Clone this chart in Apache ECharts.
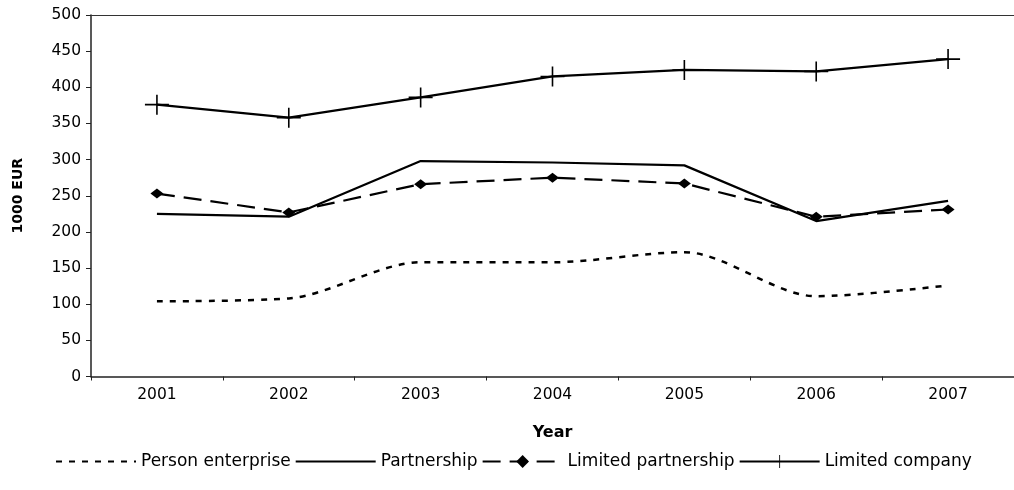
<!DOCTYPE html>
<html><head><meta charset="utf-8">
<script src="https://cdn.jsdelivr.net/npm/echarts@6/dist/echarts.min.js"></script>
<style>html,body{margin:0;padding:0;background:#fff}#c{width:1014px;height:490px}</style>
</head><body><div id="c"></div>
<script>
var years = ['2001','2002','2003','2004','2005','2006','2007'];
var personEnterprise = [104, 108, 158, 158, 172, 111, 126];
var partnership = [225, 221, 298, 296, 292, 215, 243];
var limitedPartnership = [253, 227, 266, 275, 267, 221, 231];
var limitedCompany = [376, 358, 386, 415, 424, 422, 439];
var yTicks = {min: 0, max: 500, interval: 50};

var font = 'DejaVu Sans, Liberation Sans, Arial, sans-serif';
var plus = 'path://M-0.8,-10 L0.8,-10 L0.8,10 L-0.8,10 Z M-12,-0.8 L12,-0.8 L12,0.8 L-12,0.8 Z';
var hide = {color: 'rgba(0,0,0,0)', borderColor: 'rgba(0,0,0,0)', borderWidth: 0};
var chart = echarts.init(document.getElementById('c'));
chart.setOption({
  animation: false,
  textStyle: {fontFamily: font},
  grid: {left: 91, top: 15, width: 931, bottom: 113.5, containLabel: false},
  legend: {
    bottom: 15, left: 50, itemWidth: 80, itemHeight: 16, itemGap: 4,
    textStyle: {fontFamily: font, fontSize: 17, color: '#000'},
    data: [
      {name: 'Person enterprise', itemStyle: hide},
      {name: 'Partnership', itemStyle: hide},
      {name: 'Limited partnership'},
      {name: 'Limited company'}
    ]
  },
  xAxis: [{
    type: 'category', data: years, position: 'bottom',
    name: 'Year', nameLocation: 'middle', nameGap: 48,
    nameTextStyle: {fontWeight: 'bold', fontSize: 16, color: '#000', fontFamily: font},
    axisLine: {lineStyle: {color: '#222', width: 1.5}},
    axisTick: {show: true, length: 4, lineStyle: {color: '#222'}},
    axisLabel: {color: '#000', fontSize: 15.5, margin: 10, fontFamily: font}
  }, {
    type: 'category', data: years, position: 'top',
    axisLine: {show: true, lineStyle: {color: '#333', width: 1.2}},
    axisTick: {show: false}, axisLabel: {show: false}
  }],
  yAxis: {
    type: 'value', min: yTicks.min, max: yTicks.max, interval: yTicks.interval,
    name: '1000 EUR', nameLocation: 'middle', nameRotate: 90, nameGap: 66,
    nameTextStyle: {fontWeight: 'bold', fontSize: 14, color: '#000', fontFamily: font},
    axisLine: {show: true, lineStyle: {color: '#222', width: 1.5}},
    axisTick: {show: true, length: 5, lineStyle: {color: '#222'}},
    axisLabel: {color: '#000', fontSize: 15.5, margin: 10, fontFamily: font},
    splitLine: {show: false}
  },
  series: [{
    name: 'Person enterprise', type: 'line', data: personEnterprise,
    symbol: 'none', smooth: 0.3,
    lineStyle: {color: '#000', width: 2.5, type: [6, 7]},
    itemStyle: {color: '#000'}
  }, {
    name: 'Partnership', type: 'line', data: partnership,
    symbol: 'none',
    lineStyle: {color: '#000', width: 2.2, type: 'solid'},
    itemStyle: {color: '#000'}
  }, {
    name: 'Limited partnership', type: 'line', data: limitedPartnership,
    symbol: 'diamond', symbolSize: [13, 10],
    lineStyle: {color: '#000', width: 2.2, type: [18, 9]},
    itemStyle: {color: '#000'}
  }, {
    name: 'Limited company', type: 'line', data: limitedCompany,
    symbol: plus, symbolSize: [24, 20], symbolKeepAspect: false,
    lineStyle: {color: '#000', width: 2.2, type: 'solid'},
    itemStyle: {color: '#000'}
  }]
});
</script></body></html>
